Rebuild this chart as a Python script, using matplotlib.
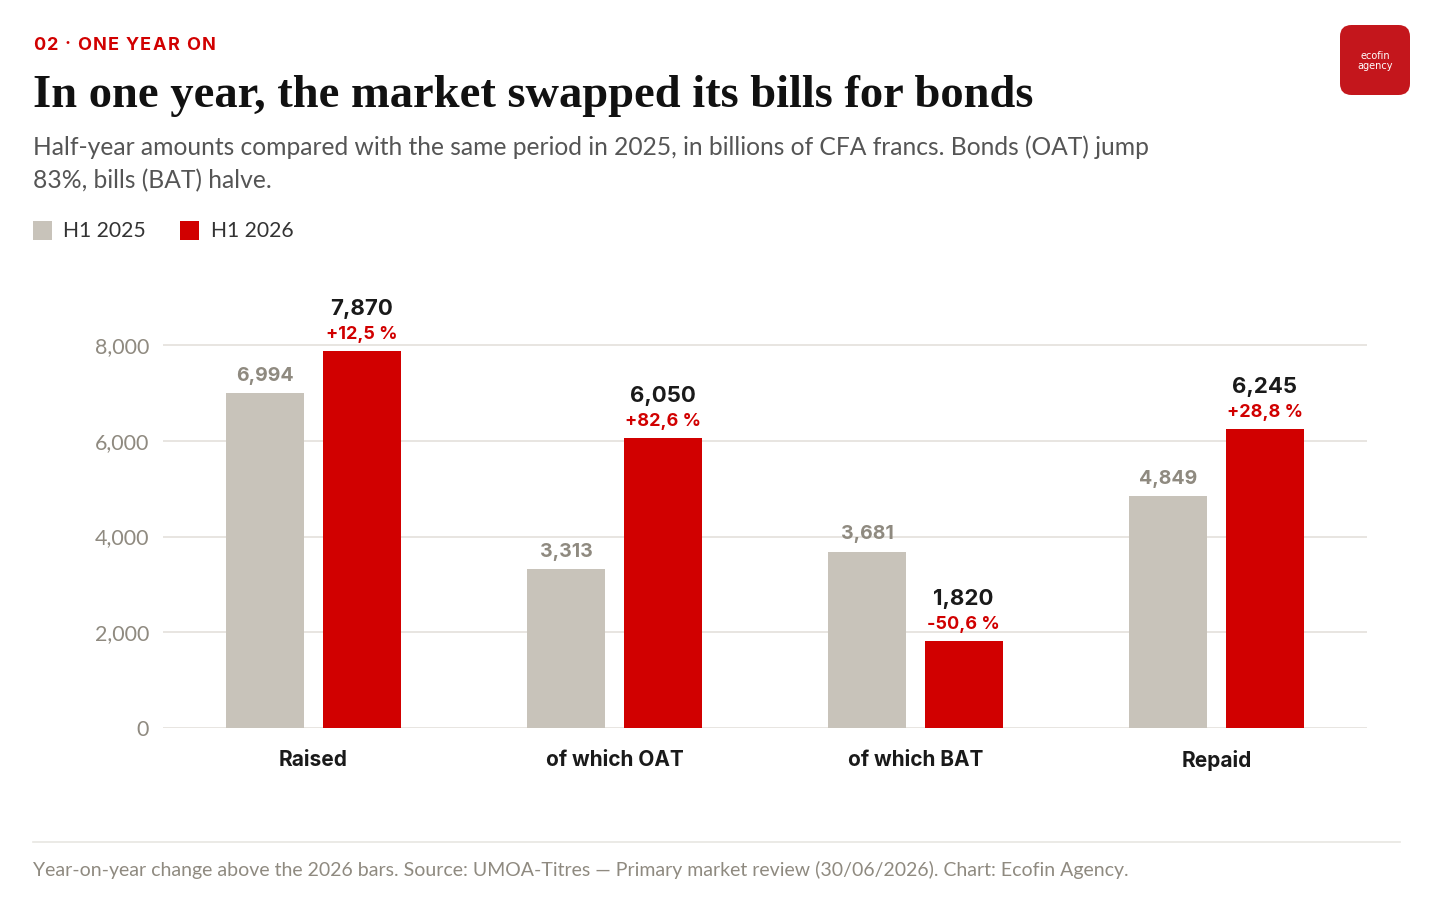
import matplotlib
matplotlib.use("Agg")
import matplotlib.pyplot as plt
from matplotlib.patches import FancyBboxPatch, Rectangle
from matplotlib.lines import Line2D
import numpy as np

categories = ["Raised", "of which OAT", "of which BAT", "Repaid"]
h1_2025 = [6994, 3313, 3681, 4849]
h1_2026 = [7870, 6050, 1820, 6245]
changes = ["+12,5 %", "+82,6 %", "-50,6 %", "+28,8 %"]
yticks = [0, 2000, 4000, 6000, 8000]

GRAY = "#c8c3ba"
RED = "#d10000"
W, H = 1437, 906
fig = plt.figure(figsize=(W / 100, H / 100), dpi=100)
fig.patch.set_facecolor("white")

def fx(px):
    return px / W

def fy(py):
    return 1 - py / H

ax = fig.add_axes([fx(163), fy(728), fx(1367) - fx(163), fy(300) - fy(728)])
ax.set_xlim(-0.5, 3.5)
ax.set_ylim(0, 8940)
x = np.arange(len(categories))
bw = 0.259
off = 0.16
ax.bar(x - off, h1_2025, width=bw, color=GRAY, zorder=3)
ax.bar(x + off, h1_2026, width=bw, color=RED, zorder=3)
for s in ax.spines.values():
    s.set_visible(False)
ax.set_yticks(yticks)
ax.set_yticklabels([f"{v:,}" for v in yticks], fontsize=15.5, color="#8f8a80", family="Lato")
ax.tick_params(axis="y", length=0, pad=10)
ax.yaxis.grid(True, color="#e6e3de", linewidth=1.3, zorder=0)
ax.set_xticks(x)
ax.set_xticklabels(categories, fontsize=15, fontweight="bold", color="#1a1a1a", family="Inter")
ax.tick_params(axis="x", length=0, pad=16)

for i in range(len(categories)):
    ax.annotate(f"{h1_2025[i]:,}", (x[i] - off, h1_2025[i]), xytext=(0, 6), textcoords="offset points",
                ha="center", va="bottom", fontsize=14, fontweight="bold", color="#8f8a80", family="Inter")
    ax.annotate(changes[i], (x[i] + off, h1_2026[i]), xytext=(0, 6), textcoords="offset points",
                ha="center", va="bottom", fontsize=13, fontweight="bold", color=RED, family="Inter")
    ax.annotate(f"{h1_2026[i]:,}", (x[i] + off, h1_2026[i]), xytext=(0, 23), textcoords="offset points",
                ha="center", va="bottom", fontsize=16, fontweight="bold", color="#1a1a1a", family="Inter")

# Header kicker with letter spacing
fig.canvas.draw()
renderer = fig.canvas.get_renderer()
kicker = "02 · ONE YEAR ON"
cx = 33.0
for ch in kicker:
    t = fig.text(fx(cx), fy(45), ch, fontsize=13, fontweight="bold", color=RED,
                 family="Inter", va="center", ha="left")
    wpx = t.get_window_extent(renderer=renderer).width if ch != " " else 3.2
    cx += wpx + 1.6

fig.text(fx(33), fy(96), "In one year, the market swapped its bills for bonds", fontsize=33.5,
         fontweight="bold", color="#111111", family="Liberation Serif", va="center", ha="left")
fig.text(fx(33), fy(147), "Half-year amounts compared with the same period in 2025, in billions of CFA francs. Bonds (OAT) jump",
         fontsize=17.7, color="#555555", family="Lato", va="center", ha="left")
fig.text(fx(33), fy(181), "83%, bills (BAT) halve.",
         fontsize=17.7, color="#555555", family="Lato", va="center", ha="left")

# Legend
fig.patches.append(Rectangle((fx(33), fy(240)), fx(19), fy(221) - fy(240), transform=fig.transFigure,
                             facecolor=GRAY, edgecolor="none"))
fig.text(fx(63), fy(231), "H1 2025", fontsize=15.2, color="#333333", family="Lato", va="center", ha="left")
fig.patches.append(Rectangle((fx(180), fy(240)), fx(19), fy(221) - fy(240), transform=fig.transFigure,
                             facecolor=RED, edgecolor="none"))
fig.text(fx(211), fy(231), "H1 2026", fontsize=15.2, color="#333333", family="Lato", va="center", ha="left")

# Logo
fig.patches.append(FancyBboxPatch((fx(1340), fy(95)), fx(70), fy(25) - fy(95),
                                  boxstyle="round,pad=0,rounding_size=0.008", transform=fig.transFigure,
                                  facecolor="#c4161c", edgecolor="none", mutation_aspect=W / H))
fig.text(fx(1375), fy(56), "ecofin", fontsize=7, color="white", family="DejaVu Sans", ha="center", va="center")
fig.text(fx(1375), fy(66), "agency", fontsize=7, color="white", family="DejaVu Sans", ha="center", va="center")

# Footer
fig.add_artist(Line2D([fx(33), fx(1400)], [fy(842), fy(842)], transform=fig.transFigure,
                      color="#e8e6e2", linewidth=1.2))
fig.text(fx(33), fy(870), "Year-on-year change above the 2026 bars. Source: UMOA-Titres — Primary market review (30/06/2026). Chart: Ecofin Agency.",
         fontsize=14.0, color="#8f8a80", family="Lato", va="center", ha="left")

fig.savefig("out.png", dpi=100, facecolor="white")
